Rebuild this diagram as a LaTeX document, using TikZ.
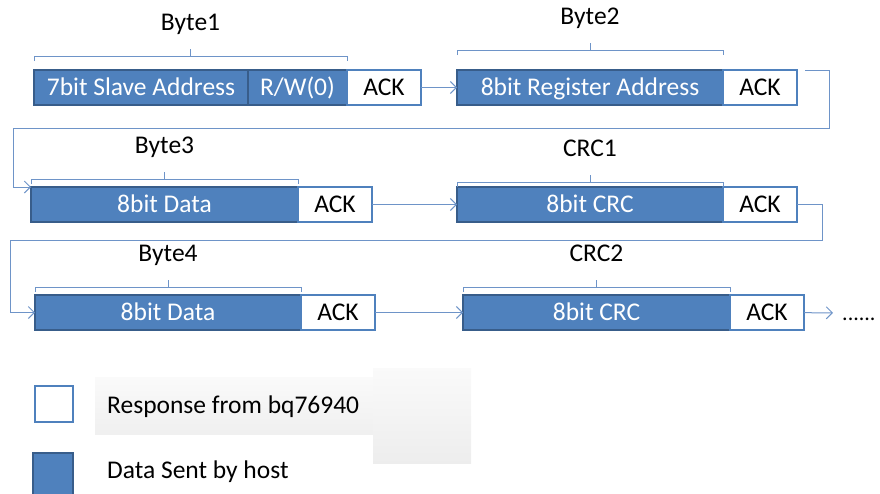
\documentclass[tikz,border=0pt]{standalone}
\usepackage{fontspec}
\setmainfont{Carlito}
\usetikzlibrary{positioning,arrows.meta,calc}
\definecolor{hostblue}{RGB}{79,129,189}
\definecolor{hostedge}{RGB}{56,93,138}
\definecolor{wireblue}{RGB}{110,148,200}
\tikzset{
  field/.style={draw, line width=2pt, outer sep=0pt, inner sep=0pt, minimum height=35pt,
    text height=17pt, text depth=2pt, font=\fontsize{25.5}{30}\selectfont},
  host/.style={field, fill=hostblue, draw=hostedge, text=white},
  ack/.style={field, fill=white, draw=hostblue, minimum width=74pt},
  flow/.style={wireblue, line width=1pt, -{Straight Barb[length=6pt,width=12pt]}},
  bracket/.style={wireblue, line width=1pt},
  title/.style={inner sep=0pt, text=black, text height=17pt, text depth=2pt, font=\fontsize{25.5}{30}\selectfont}
}
\begin{document}
\begin{tikzpicture}[x=1pt, y=-1pt]
\useasboundingbox (0,0) rectangle (880,493);
% faint backdrop behind the legend
\shade[top color=black!2, bottom color=black!6] (95,377) rectangle (373,434);
\shade[top color=black!2, bottom color=black!7] (373,368) rectangle (471,463);

% first row
\node[host, minimum width=214pt, anchor=north west] (addr) at (34,70) {7bit Slave Address};
\node[host, minimum width=99pt, right=0pt of addr] (rw) {R/W(0)};
\node[ack, right=0pt of rw] (ackA) {ACK};
\node[host, minimum width=266pt, anchor=north west] (reg) at (457,70) {8bit Register Address};
\node[ack, right=0pt of reg] (ackB) {ACK};

% second row
\node[host, minimum width=267pt, anchor=north west] (dataA) at (31,187) {8bit Data};
\node[ack, right=0pt of dataA] (ackC) {ACK};
\node[host, minimum width=266pt, anchor=north west] (crcA) at (457,187) {8bit CRC};
\node[ack, right=0pt of crcA] (ackD) {ACK};

% third row
\node[host, minimum width=266pt, anchor=north west] (dataB) at (35,295) {8bit Data};
\node[ack, right=0pt of dataB] (ackE) {ACK};
\node[host, minimum width=267pt, anchor=north west] (crcB) at (463,295) {8bit CRC};
\node[ack, right=0pt of crcB] (ackF) {ACK};
\node[title, anchor=west, inner xsep=9pt, font=\fontsize{22}{26}\selectfont] (more) at (833,313) {......};

% brackets over the host bytes
\foreach \first/\last/\gap/\txt in {addr/rw/14/Byte1, reg/reg/20/Byte2, dataA/dataA/8/Byte3,
    crcA/crcA/5/CRC1, dataB/dataB/8/Byte4, crcB/crcB/8/CRC2}{
  \coordinate (bl) at ([yshift=\gap pt]\first.north west);
  \coordinate (br) at ([yshift=\gap pt]\last.north east);
  \draw[bracket] ([yshift=-5pt]bl) -- (bl) -- (br) -- ([yshift=-5pt]br);
  \draw[bracket] ($(bl)!0.5!(br)$) -- ++(0,-7) node[title, above=16pt] (\txt) {\txt};
}

% connections
\coordinate (turnA) at (829,128);
\coordinate (turnB) at (822,240);
\draw[flow] (ackA) -- (reg);
\draw[flow] ([xshift=8pt]ackB.north east) -| (turnA) -| ([xshift=-18pt]dataA.north west) -- (dataA.north west);
\draw[flow] (ackC) -- (crcA);
\draw[flow] (ackD.east) -| (turnB) -| ([xshift=-25pt]dataB.west) -- (dataB.west);
\draw[flow] (ackE) -- (crcB);
\draw[flow] (ackF) -- (more);

% legend
\node[ack, minimum width=38pt, minimum height=36pt, anchor=north west] (keyAck) at (35,386) {};
\node[host, minimum width=40pt, minimum height=45pt, anchor=north west] (keyHost) at (33,453) {};
\node[title, anchor=base west] (respText) at (107,413) {Response from bq76940};
\node[title, anchor=base west] (hostText) at (107,478) {Data Sent by host};
\end{tikzpicture}
\end{document}
